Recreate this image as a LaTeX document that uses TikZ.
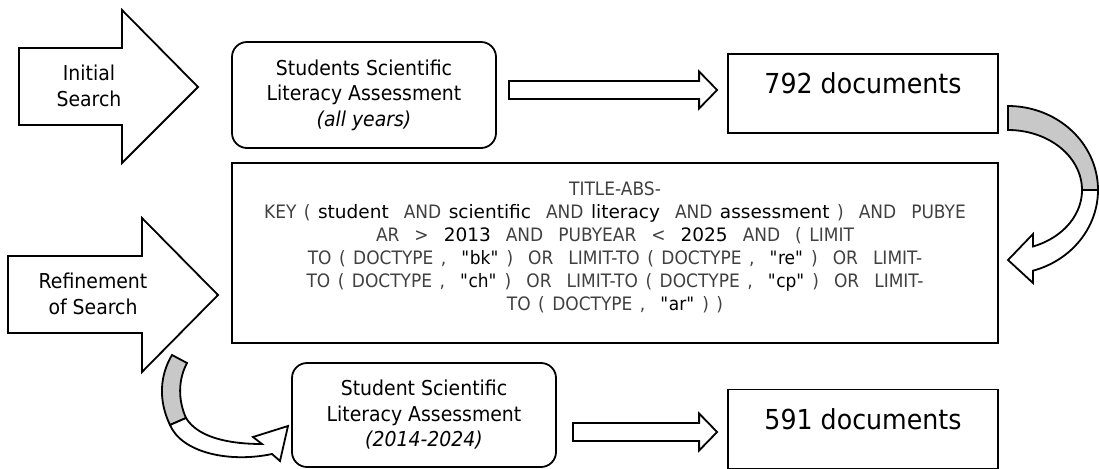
\documentclass[tikz,border=0pt]{standalone}
\usepackage{fontspec}
\setmainfont{DejaVu Sans}[FakeStretch=0.92]
\newfontfamily\termfamily{DejaVu Sans}
\usetikzlibrary{positioning,calc}

\definecolor{backgray}{RGB}{200,200,200}
\definecolor{querygray}{RGB}{64,64,64}
\newcommand{\queryfont}{\fontsize{18.5}{23}\selectfont\spaceskip=7.5pt plus 1pt\relax}
\newcommand{\qterm}[1]{{\termfamily\fontsize{18.5}{23}\selectfont\color{black}#1}}
\newcommand{\qq}[1]{\textcolor{black}{\textquotedbl#1\textquotedbl}}
% hollow block arrow: start coordinate, tip coordinate
\newcommand{\hollowarrow}[2]{%
  \draw[block arrow] let \p1=(#1), \p2=(#2) in
    (\x1,\y1+9pt) -- (\x2-18pt,\y1+9pt) -- (\x2-18pt,\y1+18.5pt) -- (\x2,\y2)
    -- (\x2-18pt,\y1-18.5pt) -- (\x2-18pt,\y1-9pt) -- (\x1,\y1-9pt) -- cycle;}

\begin{document}
\begin{tikzpicture}[x=1pt,y=-1pt,line width=1.8pt,line join=miter,
    box text/.style={font=\fontsize{20.5}{25.5}\selectfont,align=center},
    round box/.style={draw,rounded corners=15pt,minimum width=264pt,inner sep=0pt},
    doc box/.style={draw,minimum width=270pt,minimum height=79pt,inner sep=0pt,
      font=\fontsize{27.5}{33}\selectfont,text height=20pt,text depth=20pt},
    query text/.style={font=\queryfont,text=querygray,align=center},
    block arrow/.style={draw,fill=white},
    bend back/.style={draw,fill=backgray},
    bend front/.style={draw,fill=white}]

  \useasboundingbox (0,0) rectangle (1099,468);

  % search stages
  \draw[block arrow] (19,48) -- (122,48) -- (122,10) -- (198,87) -- (122,163)
    -- (122,125) -- (19,125) -- cycle;
  \node[box text] (initial) at (89,86) {Initial\\Search};
  \draw[block arrow] (8,256) -- (142,256) -- (142,218) -- (218,295) -- (142,372)
    -- (142,333) -- (8,333) -- cycle;
  \node[box text] (refine) at (93,294) {Refinement\\of Search};

  % boxes
  \node[round box,box text,minimum height=106pt] (assess1) at (364,95)
    {Students Scientific\\Literacy Assessment\\\textit{(all years)}};
  \node[doc box] (docs1) at (863,93.5) {792 documents};
  \node[draw,minimum width=766pt,minimum height=180pt,inner sep=0pt] (query) at (615,253) {};
  \node[query text] (query terms) at ($(query.center)+(0,-6)$)
    {TITLE-ABS-\\
     KEY ( \qterm{student}~ AND \qterm{scientific}~ AND \qterm{literacy}~ AND \qterm{assessment} )~ AND~ PUBYE\\
     AR~ >~ \qterm{2013}~ AND~ PUBYEAR~ <~ \qterm{2025}~ AND~ ( LIMIT\\
     TO ( DOCTYPE ,~ \qq{bk} )~ OR~ LIMIT-TO ( DOCTYPE ,~ \qq{re} )~ OR~ LIMIT-\\
     TO ( DOCTYPE ,~ \qq{ch} )~ OR~ LIMIT-TO ( DOCTYPE ,~ \qq{cp} )~ OR~ LIMIT-\\
     TO ( DOCTYPE ,~ \qq{ar} ) )};
  \node[round box,box text,minimum height=104pt] (assess2) at (424,415)
    {Student Scientific\\Literacy Assessment\\\textit{(2014-2024)}};
  \node[doc box] (docs2) at (863,429) {591 documents};

  % straight arrows
  \coordinate (a1 start) at ($(assess1.east)+(12,-5)$);
  \coordinate (a1 tip) at ($(docs1.west)+(-10,-3.5)$);
  \hollowarrow{a1 start}{a1 tip}
  \coordinate (a2 start) at ($(assess2.east)+(16,17)$);
  \coordinate (a2 tip) at ($(docs2.west)+(-10,3)$);
  \hollowarrow{a2 start}{a2 tip}

  % curved arrow from docs1 down to query
  \draw[bend back] plot[domain=-90:0,samples=40] ({1008+90*cos(\x)},{190+84*sin(\x)})
    -- plot[domain=0:-90,samples=40] ({1008+74*cos(\x)},{190+60*sin(\x)}) -- cycle;
  \draw[bend front] plot[domain=0:73.9,samples=40] ({1008+90*cos(\x)},{190+84*sin(\x)})
    -- (1033,283) -- (1008,260) -- (1033,234)
    -- plot[domain=70.3:0,samples=40] ({1008+74*cos(\x)},{190+60*sin(\x)}) -- cycle;

  % curved arrow from refinement to assess2
  \draw[bend back] (172,355) .. controls (160,375) and (158,400) .. (170,425)
    -- (186,418) .. controls (178,400) and (178,380) .. (187,363) -- cycle;
  \draw[bend front] (170,425) .. controls (182,453) and (230,463) .. (272,454)
    -- (280,461) -- (288,426) -- (253,437) -- (262,444)
    .. controls (225,444) and (197,436) .. (186,418) -- cycle;

\end{tikzpicture}
\end{document}
